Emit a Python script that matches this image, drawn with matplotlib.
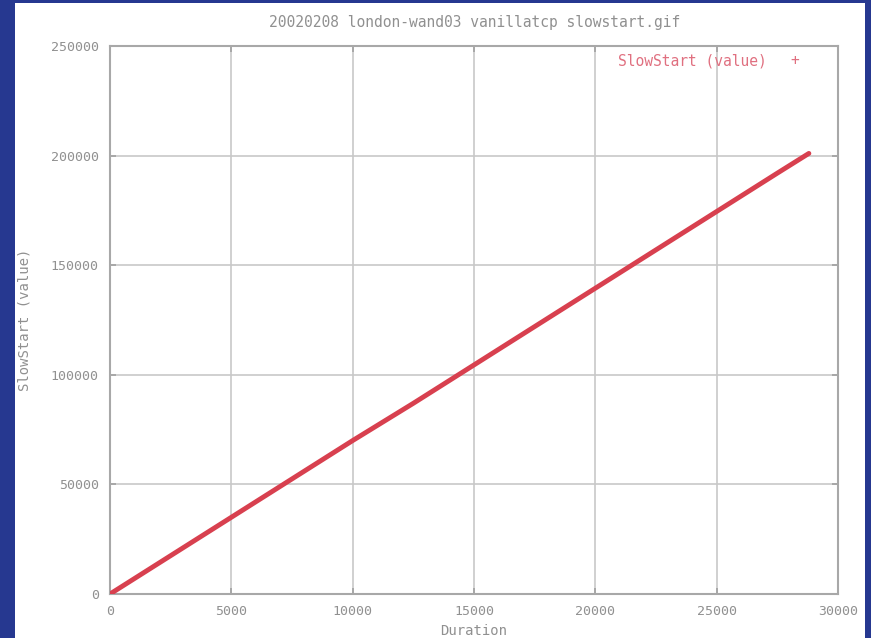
import numpy as np
import matplotlib.pyplot as plt
from matplotlib.patches import Rectangle

# values
duration = [0, 2500, 5000, 7500, 10000, 12500, 15000, 17500, 20000, 22500, 25000, 27500, 28800]
slowstart = [0, 17500, 35000, 52500, 70000, 87000, 104500, 122000, 139500, 157000, 174500, 192000, 201000]

xticks = [0, 5000, 10000, 15000, 20000, 25000, 30000]
yticks = [0, 50000, 100000, 150000, 200000, 250000]

title = '20020208 london-wand03 vanillatcp slowstart.gif'
legend_label = 'SlowStart (value)'

blue = '#263890'
grey = '#909090'
red = '#d8404f'
mono = 'DejaVu Sans Mono'

W, H = 871, 638
fig = plt.figure(figsize=(W / 100, H / 100), dpi=100, facecolor=blue)
# white page inside the blue frame
fig.add_artist(Rectangle((15 / W, 0), 850 / W, 635 / H, transform=fig.transFigure,
                         facecolor='white', edgecolor='none', zorder=-10))

ax = fig.add_axes([110 / W, (H - 594) / H, 728 / W, 548 / H])
ax.set_zorder(1)
ax.plot(duration, slowstart, color=red, lw=3.5, solid_capstyle='round', zorder=3)

ax.set_xlim(0, 30000)
ax.set_ylim(0, 250000)
ax.set_xticks(xticks)
ax.set_yticks(yticks)
ax.set_xticklabels([str(v) for v in xticks])
ax.set_yticklabels([str(v) for v in yticks])
ax.grid(True, color='#c8c8c8', lw=1.2)
ax.set_axisbelow(True)
for s in ax.spines.values():
    s.set_color('#a8a8a8')
    s.set_linewidth(1.5)
ax.tick_params(colors='#a0a0a0', labelcolor=grey, labelsize=9.5, length=4, width=1.2,
               direction='in', top=True, right=True, pad=8)
for lab in ax.get_xticklabels() + ax.get_yticklabels():
    lab.set_family(mono)

ax.set_xlabel('Duration', color=grey, fontsize=10, family=mono, labelpad=4)
ax.set_ylabel(legend_label, color=grey, fontsize=10, family=mono, labelpad=14)

fig.text(475 / W, 1 - 22 / H, title, ha='center', va='center', color=grey,
         fontsize=10.5, family=mono)
# legend as in gnuplot
fig.text(767 / W, 1 - 61 / H, legend_label, ha='right', va='center', color='#e07080',
         fontsize=10.5, family=mono)
fig.text(795 / W, 1 - 61 / H, '+', ha='center', va='center', color='#e07080',
         fontsize=10.5, family=mono)

fig.savefig('out.png', dpi=100, facecolor=blue)
